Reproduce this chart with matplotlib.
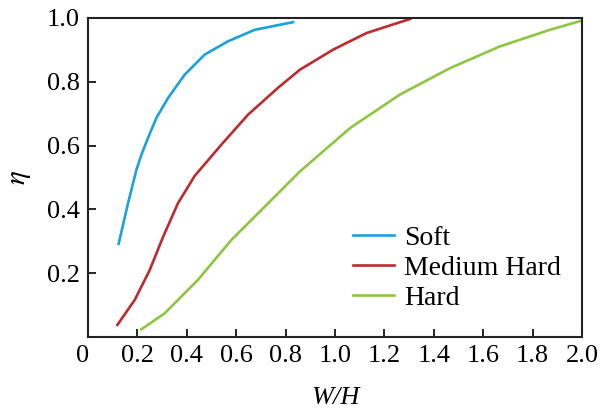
import matplotlib
matplotlib.use("Agg")
import matplotlib.pyplot as plt
import matplotlib.transforms as mtransforms

# values
soft_x = [0.124, 0.162, 0.196, 0.216, 0.243, 0.277, 0.324, 0.391, 0.472, 0.567, 0.675, 0.83]
soft_y = [0.292, 0.419, 0.524, 0.571, 0.624, 0.687, 0.749, 0.822, 0.885, 0.927, 0.963, 0.987]

medium_x = [0.119, 0.189, 0.250, 0.304, 0.364, 0.432, 0.54, 0.648, 0.769, 0.858, 0.993, 1.128, 1.304]
medium_y = [0.038, 0.116, 0.21, 0.314, 0.419, 0.505, 0.603, 0.697, 0.781, 0.838, 0.901, 0.953, 0.997]

hard_x = [0.216, 0.31, 0.445, 0.58, 0.729, 0.858, 1.061, 1.263, 1.466, 1.668, 1.87, 2.0]
hard_y = [0.024, 0.074, 0.179, 0.304, 0.419, 0.519, 0.655, 0.76, 0.843, 0.911, 0.963, 0.992]

x_ticks = [0, 0.2, 0.4, 0.6, 0.8, 1.0, 1.2, 1.4, 1.6, 1.8, 2.0]
x_labels = ["0", "0.2", "0.4", "0.6", "0.8", "1.0", "1.2", "1.4", "1.6", "1.8", "2.0"]
y_ticks = [0.2, 0.4, 0.6, 0.8, 1.0]
y_labels = ["0.2", "0.4", "0.6", "0.8", "1.0"]

plt.rcParams["font.family"] = ["Liberation Serif", "DejaVu Serif"]
plt.rcParams["mathtext.fontset"] = "stix"

fig = plt.figure(figsize=(6.02, 4.16), dpi=100)
ax = fig.add_axes([88 / 602, 1 - 337 / 416, (582 - 88) / 602, (337 - 18) / 416])

ax.plot(soft_x, soft_y, color="#1ba1dc", lw=1.9, label="Soft")
ax.plot(medium_x, medium_y, color="#bf2a2e", lw=1.9, label="Medium Hard")
ax.plot(hard_x, hard_y, color="#8dc63f", lw=1.9, label="Hard")

ax.set_xlim(0, 2.0)
ax.set_ylim(0, 1.0)
ax.set_xticks(x_ticks)
ax.set_xticklabels(x_labels)
ax.set_yticks(y_ticks)
ax.set_yticklabels(y_labels)
ax.tick_params(direction="in", length=6, width=1.2, labelsize=19, pad=6)
for s in ax.spines.values():
    s.set_linewidth(1.5)
    s.set_color("#222222")

# the "0" label sits a little left of the origin in the original
zero_lab = ax.get_xticklabels()[0]
zero_lab.set_transform(zero_lab.get_transform() +
                       mtransforms.ScaledTranslation(-4 / 72, 0, fig.dpi_scale_trans))

ax.set_xlabel("W/H", fontsize=19, style="italic", labelpad=14)
ax.set_ylabel("$\\eta$", fontsize=21, labelpad=10)

ax.legend(loc="center left", bbox_to_anchor=(0.536, 0.216), frameon=False,
          fontsize=20, handlelength=1.5, handletextpad=0.36, labelspacing=0.17,
          borderpad=0, borderaxespad=0)

fig.savefig("out.png", dpi=100)
